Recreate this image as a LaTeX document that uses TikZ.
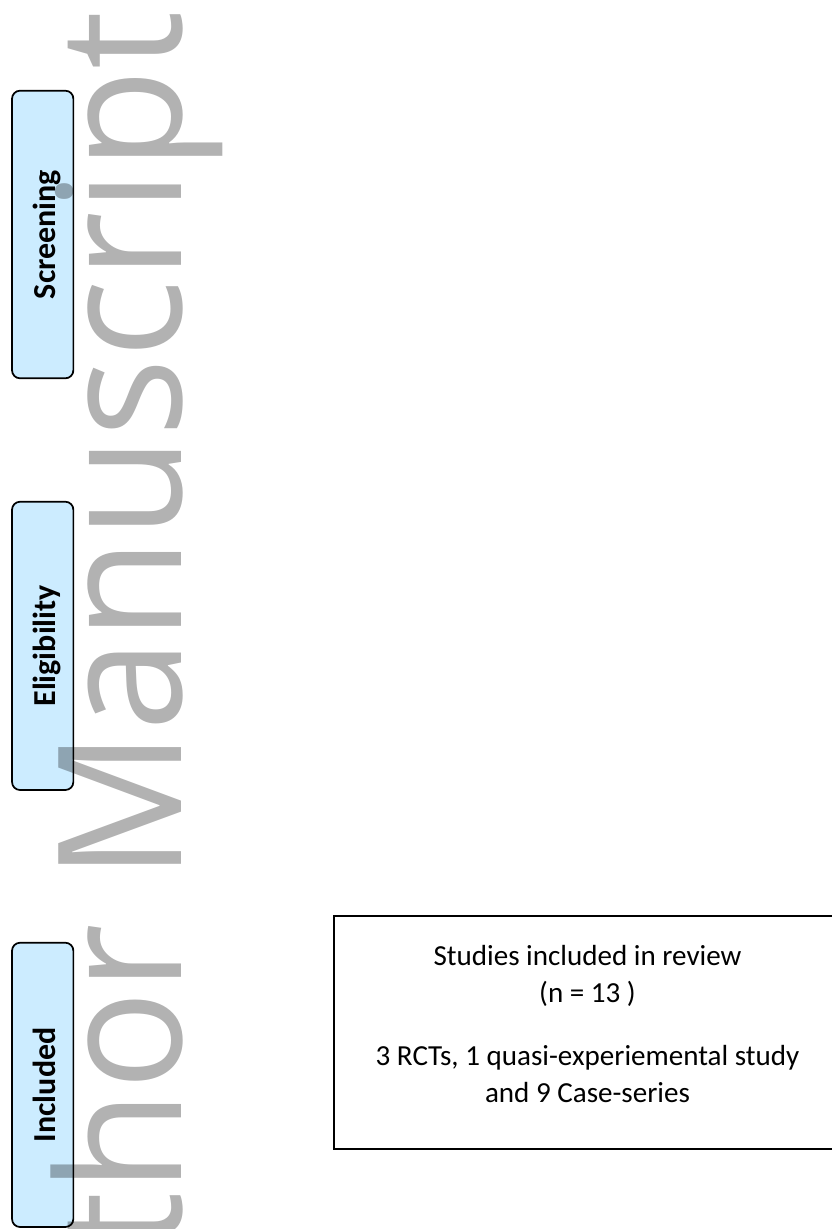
\documentclass[tikz,border=0pt]{standalone}
\usepackage{fontspec}
\setmainfont{Carlito}
\newfontfamily\wmfont{Open Sans}
\definecolor{sideblue}{RGB}{204,236,255}
\tikzset{
  sidebox/.style={draw=black, line width=1.3pt, fill=sideblue, rounded corners=6pt,
    rotate=90, minimum height=46pt, inner sep=0pt, text height=19.5pt, text depth=0pt,
    font=\bfseries\fontsize{24pt}{28pt}\selectfont},
  mainbox/.style={draw=black, line width=1.5pt, inner sep=0pt},
  maintext/.style={anchor=base, inner sep=0pt, font=\fontsize{21.8pt}{27pt}\selectfont},
  watermark/.style={rotate=90, xscale=0.96, anchor=base east, inner sep=0pt, text=black, text opacity=0.3,
    font=\wmfont\fontsize{129pt}{129pt}\selectfont}
}
\begin{document}
\begin{tikzpicture}[x=0.75pt,y=-0.75pt]
\useasboundingbox (0,0) rectangle (832,1229);
\clip (0,0) rectangle (832,1229);
\fill[white] (0,0) rectangle (832,1229);
% stage labels
\node[sidebox, minimum width=215.7pt] (scr) at (42.7,234.5) {Screening};
\node[sidebox, minimum width=216.2pt] (eli) at (42.7,645.85) {Eligibility};
\node[sidebox, minimum width=213.2pt] (inc) at (42.7,1084.85) {Included};
% included studies box
\node[mainbox, minimum width=379.8pt, minimum height=174.5pt] (box) at (587.5,1032.35) {};
\node[maintext] (l1) at (587.5,965) {Studies included in review};
\node[maintext] (l2) at (587.5,1002) {(n = 13 )};
\node[maintext] (l3) at (587.5,1065) {3 RCTs, 1 quasi-experiemental study};
\node[maintext] (l4) at (587.5,1102) {and 9 Case-series};
% watermark
\node[watermark] (wm) at (181,11) {Author Manuscript};
\end{tikzpicture}
\end{document}
